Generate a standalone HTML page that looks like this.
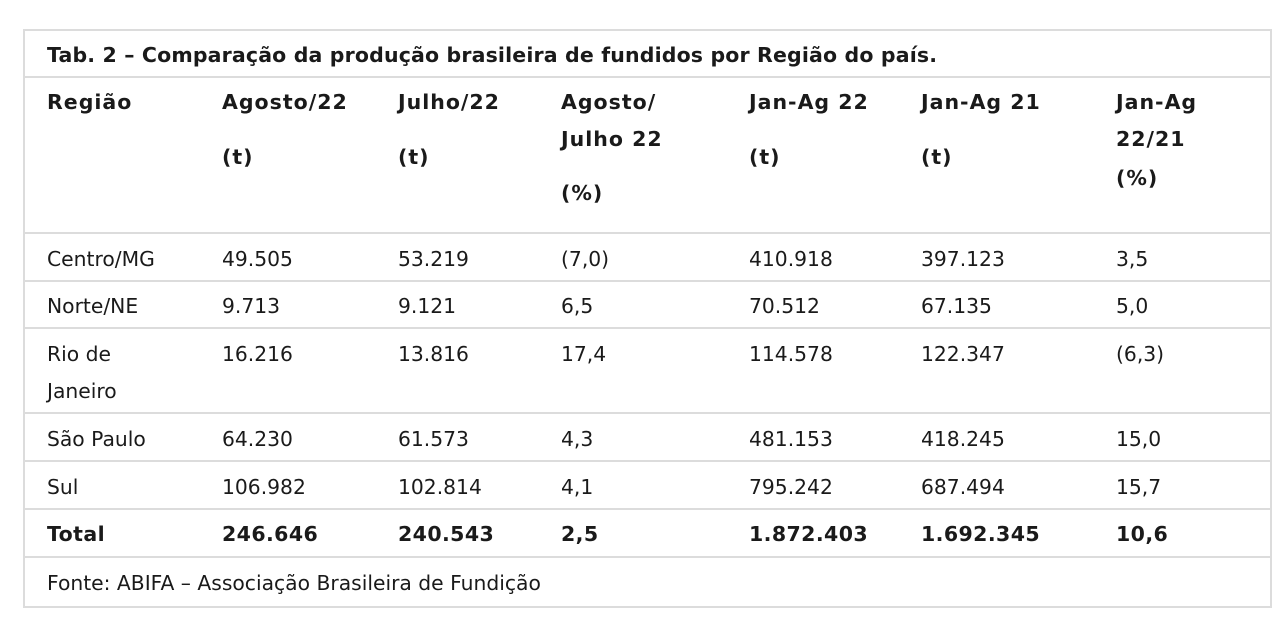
<!DOCTYPE html>
<html><head><meta charset="utf-8"><style>
body{margin:0;width:1274px;height:633px;background:#fff;position:relative;overflow:hidden;font-family:"DejaVu Sans","Liberation Sans",sans-serif;color:#1a1a1a}
.box{position:absolute;left:23px;top:29px;width:1245px;height:575px;border:2px solid #dcdcdc}
.hl{position:absolute;left:23px;width:1247px;height:2px;background:#dcdcdc}
.t{position:absolute;font-size:20.3px;line-height:24px;white-space:nowrap}
.b{font-family:"DejaVu Sans","Liberation Sans",sans-serif;font-weight:bold;font-size:20.5px;letter-spacing:0.4px}
.h{letter-spacing:1px}
</style></head><body>
<div class="box"></div>
<div class="hl" style="top:76px"></div>
<div class="hl" style="top:232px"></div>
<div class="hl" style="top:280px"></div>
<div class="hl" style="top:327px"></div>
<div class="hl" style="top:412px"></div>
<div class="hl" style="top:460px"></div>
<div class="hl" style="top:508px"></div>
<div class="hl" style="top:556px"></div>

<div class="t b" style="left:47px;top:43px;letter-spacing:0.15px">Tab. 2 – Comparação da produção brasileira de fundidos por Região do país.</div>

<div class="t b h" style="left:47px;top:90px">Região</div>
<div class="t b h" style="left:222px;top:90px">Agosto/22</div>
<div class="t b h" style="left:222px;top:145px">(t)</div>
<div class="t b h" style="left:398px;top:90px">Julho/22</div>
<div class="t b h" style="left:398px;top:145px">(t)</div>
<div class="t b h" style="left:561px;top:90px">Agosto/</div>
<div class="t b h" style="left:561px;top:127px">Julho 22</div>
<div class="t b h" style="left:561px;top:181px">(%)</div>
<div class="t b h" style="left:749px;top:90px">Jan-Ag 22</div>
<div class="t b h" style="left:749px;top:145px">(t)</div>
<div class="t b h" style="left:921px;top:90px">Jan-Ag 21</div>
<div class="t b h" style="left:921px;top:145px">(t)</div>
<div class="t b h" style="left:1116px;top:90px">Jan-Ag</div>
<div class="t b h" style="left:1116px;top:127px">22/21</div>
<div class="t b h" style="left:1116px;top:166px">(%)</div>

<div>
<div class="t" style="left:47px;top:247px">Centro/MG</div><div class="t" style="left:222px;top:247px">49.505</div><div class="t" style="left:398px;top:247px">53.219</div><div class="t" style="left:561px;top:247px">(7,0)</div><div class="t" style="left:749px;top:247px">410.918</div><div class="t" style="left:921px;top:247px">397.123</div><div class="t" style="left:1116px;top:247px">3,5</div></div>
<div>
<div class="t" style="left:47px;top:294px">Norte/NE</div><div class="t" style="left:222px;top:294px">9.713</div><div class="t" style="left:398px;top:294px">9.121</div><div class="t" style="left:561px;top:294px">6,5</div><div class="t" style="left:749px;top:294px">70.512</div><div class="t" style="left:921px;top:294px">67.135</div><div class="t" style="left:1116px;top:294px">5,0</div></div>
<div>
<div class="t" style="left:47px;top:342px">Rio de</div><div class="t" style="left:47px;top:379px">Janeiro</div><div class="t" style="left:222px;top:342px">16.216</div><div class="t" style="left:398px;top:342px">13.816</div><div class="t" style="left:561px;top:342px">17,4</div><div class="t" style="left:749px;top:342px">114.578</div><div class="t" style="left:921px;top:342px">122.347</div><div class="t" style="left:1116px;top:342px">(6,3)</div></div>
<div>
<div class="t" style="left:47px;top:427px">São Paulo</div><div class="t" style="left:222px;top:427px">64.230</div><div class="t" style="left:398px;top:427px">61.573</div><div class="t" style="left:561px;top:427px">4,3</div><div class="t" style="left:749px;top:427px">481.153</div><div class="t" style="left:921px;top:427px">418.245</div><div class="t" style="left:1116px;top:427px">15,0</div></div>
<div>
<div class="t" style="left:47px;top:475px">Sul</div><div class="t" style="left:222px;top:475px">106.982</div><div class="t" style="left:398px;top:475px">102.814</div><div class="t" style="left:561px;top:475px">4,1</div><div class="t" style="left:749px;top:475px">795.242</div><div class="t" style="left:921px;top:475px">687.494</div><div class="t" style="left:1116px;top:475px">15,7</div></div>
<div>
<div class="t b" style="left:47px;top:522px">Total</div><div class="t b" style="left:222px;top:522px">246.646</div><div class="t b" style="left:398px;top:522px">240.543</div><div class="t b" style="left:561px;top:522px">2,5</div><div class="t b" style="left:749px;top:522px">1.872.403</div><div class="t b" style="left:921px;top:522px">1.692.345</div><div class="t b" style="left:1116px;top:522px">10,6</div></div>

<div class="t" style="left:47px;top:571px">Fonte: ABIFA – Associação Brasileira de Fundição</div>
</body></html>
